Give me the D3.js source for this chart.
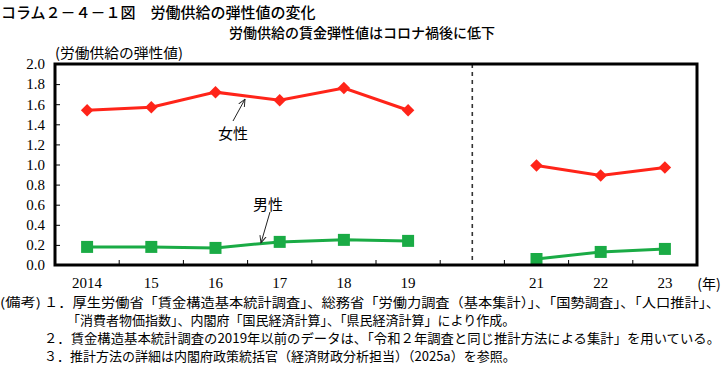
<!DOCTYPE html>
<html><head><meta charset="utf-8">
<script src="https://cdn.jsdelivr.net/npm/d3@7"></script>
<style>
body{margin:0;background:#fff;}
svg{display:block;}
.jp{font-family:"Noto Sans CJK JP","Noto Sans",sans-serif;}
</style>
</head><body>
<svg id="c" width="724" height="367"></svg>
<script>
const categories = ["2014","15","16","17","18","19","20","21","22","23"];
const tickLabels = ["2014","15","16","17","18","19","","21","22","23"];
const female = [1.54,1.57,1.72,1.64,1.76,1.54,null,0.99,0.89,0.97];
const male   = [0.18,0.18,0.17,0.23,0.25,0.24,null,0.06,0.13,0.16];
const yTicks = [0,0.2,0.4,0.6,0.8,1.0,1.2,1.4,1.6,1.8,2.0];
const breakCategory = "20";
const title = "コラム２－４－１図　労働供給の弾性値の変化";
const subtitle = "労働供給の賃金弾性値はコロナ禍後に低下";
const yLabel = "(労働供給の弾性値)";
const notes = [
  "(備考)",
  "１．厚生労働省「賃金構造基本統計調査」、総務省「労働力調査（基本集計）」、「国勢調査」、「人口推計」、",
  "「消費者物価指数」、内閣府「国民経済計算」、「県民経済計算」により作成。",
  "２．賃金構造基本統計調査の2019年以前のデータは、「令和２年調査と同じ推計方法による集計」を用いている。",
  "３．推計方法の詳細は内閣府政策統括官（経済財政分析担当）（2025a）を参照。"
];

const svg = d3.select("#c");
const L=55, R=697, T=64, B=265;
const x = d3.scaleBand().domain(categories).range([L,R]);
const y = d3.scaleLinear().domain([0,2]).range([B,T]);

// titles
svg.append("text").attr("class","jp").attr("x",1).attr("y",18)
  .attr("font-size",15).attr("font-weight",500).attr("fill","#000").text(title);
svg.append("text").attr("class","jp").attr("x",362).attr("y",38).attr("text-anchor","middle")
  .attr("font-size",14).attr("font-weight",500).attr("fill","#000").text(subtitle);
svg.append("text").attr("class","jp").attr("x",55).attr("y",58)
  .attr("font-size",14).attr("fill","#000").attr("textLength",128).attr("lengthAdjust","spacingAndGlyphs").text(yLabel);

// y axis
const ya = svg.append("g").attr("transform",`translate(${L},0)`)
  .call(d3.axisLeft(y).tickValues(yTicks).tickSizeInner(-5).tickSizeOuter(0).tickPadding(10).tickFormat(d3.format(".1f")));
ya.select(".domain").remove();
ya.selectAll("line").attr("stroke","#000").attr("stroke-width",1);
ya.selectAll("text").attr("font-size",15).attr("fill","#000").attr("font-family","Liberation Serif, serif");

// x labels
const xa = svg.append("g").attr("transform",`translate(0,${B})`)
  .call(d3.axisBottom(x).tickSize(0).tickPadding(12).tickFormat((d,i)=>tickLabels[i]));
xa.select(".domain").remove();
xa.selectAll("text").attr("font-size",15).attr("fill","#000").attr("font-family","Liberation Serif, serif");
svg.append("text").attr("class","jp").attr("x",x("23")+x.bandwidth()/2+44).attr("y",B+24)
  .attr("text-anchor","middle").attr("font-size",14).attr("fill","#000").text("(年)");

// band boundary ticks on bottom axis
svg.append("g").selectAll("line").data(categories.slice(1)).join("line")
  .attr("x1",d=>x(d)).attr("x2",d=>x(d)).attr("y1",B).attr("y2",B-5)
  .attr("stroke","#000").attr("stroke-width",1);

// dashed break line
svg.append("line").attr("x1",x(breakCategory)+x.bandwidth()/2).attr("x2",x(breakCategory)+x.bandwidth()/2)
  .attr("y1",T).attr("y2",B).attr("stroke","#333").attr("stroke-width",1.6).attr("stroke-dasharray","4,4");

// lines
const cx = (i)=>x(categories[i])+x.bandwidth()/2;
const line = d3.line().defined(d=>d!=null).x((d,i)=>cx(i)).y(d=>y(d));
svg.append("path").datum(female).attr("d",line).attr("fill","none").attr("stroke","#ff2419").attr("stroke-width",3);
svg.append("path").datum(male).attr("d",line).attr("fill","none").attr("stroke","#1aab45").attr("stroke-width",3);

const pts = (arr)=>arr.map((v,i)=>({v,i})).filter(d=>d.v!=null);
svg.append("g").selectAll("path").data(pts(female)).join("path")
  .attr("d",d3.symbol().type(d3.symbolSquare).size(78))
  .attr("transform",d=>`translate(${cx(d.i)},${y(d.v)}) rotate(45)`)
  .attr("fill","#ff2419");
svg.append("g").selectAll("path").data(pts(male)).join("path")
  .attr("d",d3.symbol().type(d3.symbolSquare).size(144))
  .attr("transform",d=>`translate(${cx(d.i)},${y(d.v)})`)
  .attr("fill","#1aab45");

// frame
svg.append("rect").attr("x",L).attr("y",T).attr("width",R-L).attr("height",B-T)
  .attr("fill","none").attr("stroke","#000").attr("stroke-width",3);

// annotations
const defs = svg.append("defs");
defs.append("marker").attr("id","ah").attr("viewBox","0 0 10 10").attr("refX",9).attr("refY",5)
  .attr("markerWidth",8).attr("markerHeight",8).attr("orient","auto")
  .append("path").attr("d","M0,1 L9,5 L0,9").attr("fill","none").attr("stroke","#222").attr("stroke-width",1.2);
svg.append("line").attr("x1",233).attr("y1",121).attr("x2",245).attr("y2",y(1.67)+2)
  .attr("stroke","#222").attr("stroke-width",1).attr("marker-end","url(#ah)");
svg.append("text").attr("class","jp").attr("x",233).attr("y",139).attr("text-anchor","middle")
  .attr("font-size",15).attr("fill","#000").text("女性");
svg.append("line").attr("x1",270).attr("y1",212).attr("x2",261).attr("y2",y(0.2)-2)
  .attr("stroke","#222").attr("stroke-width",1).attr("marker-end","url(#ah)");
svg.append("text").attr("class","jp").attr("x",268).attr("y",210).attr("text-anchor","middle")
  .attr("font-size",15).attr("fill","#000").text("男性");

// notes
const ny = [307,325,343,361];
svg.append("text").attr("class","jp").attr("x",0).attr("y",ny[0]).attr("font-size",12.5)
  .attr("textLength",41).attr("lengthAdjust","spacingAndGlyphs").attr("fill","#000").text(notes[0]);
const noteX = [44,67,44,44];
const noteW = [676,null,676,null];
notes.slice(1).forEach((t,i)=>{
  const el = svg.append("text").attr("class","jp").attr("x",noteX[i]).attr("y",ny[i])
    .attr("font-size",13).attr("fill","#000").text(t);
  if(noteW[i]) el.attr("textLength",noteW[i]).attr("lengthAdjust","spacingAndGlyphs");
});
</script>
</body></html>
